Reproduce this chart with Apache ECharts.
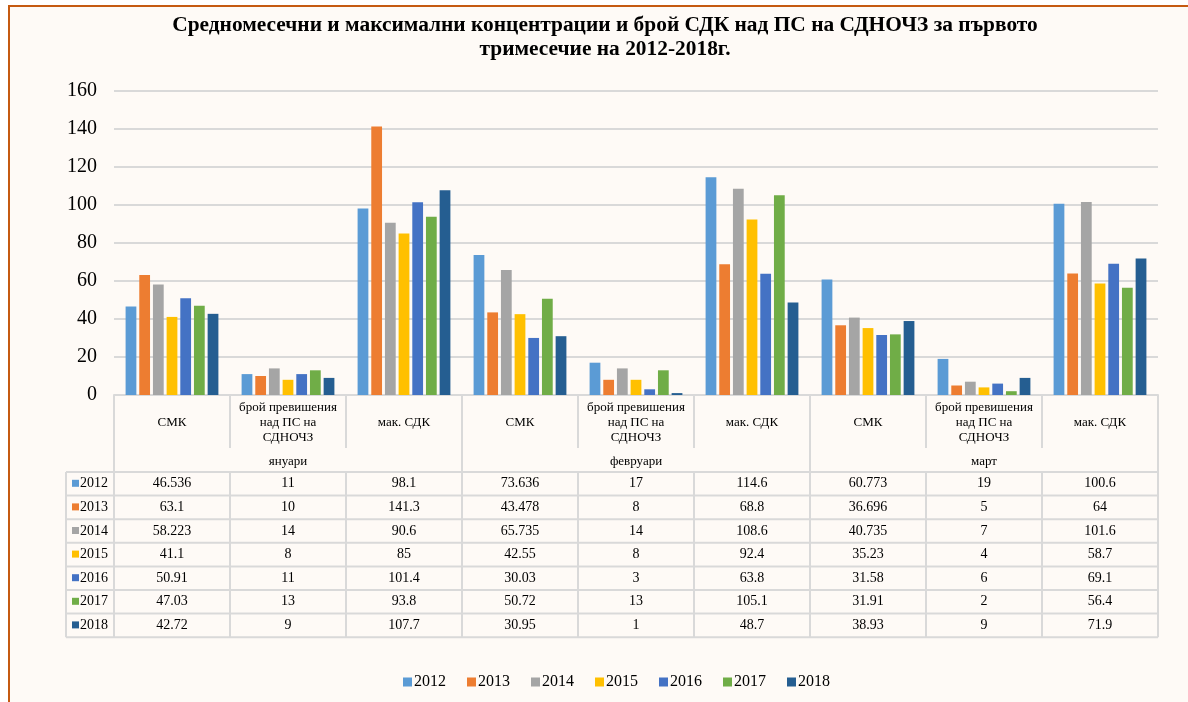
<!DOCTYPE html>
<html>
<head>
<meta charset="utf-8">
<script src="https://cdn.jsdelivr.net/npm/echarts@6/dist/echarts.min.js"></script>
<style>
  html, body { margin: 0; padding: 0; background: #fff; }
  #chart { width: 1188px; height: 702px; }
</style>
</head>
<body>
<div id="chart"></div>
<script>
// данни
const months = ['януари', 'февруари', 'март']
const measures = ['СМК', 'брой превишения\nнад ПС на\nСДНОЧЗ', 'мак. СДК']
const years = ['2012', '2013', '2014', '2015', '2016', '2017', '2018']
const yTicks = [0, 160, 20]

const v2012 = [46.536, 11, 98.1, 73.636, 17, 114.6, 60.773, 19, 100.6]
const v2013 = [63.1, 10, 141.3, 43.478, 8, 68.8, 36.696, 5, 64]
const v2014 = [58.223, 14, 90.6, 65.735, 14, 108.6, 40.735, 7, 101.6]
const v2015 = [41.1, 8, 85, 42.55, 8, 92.4, 35.23, 4, 58.7]
const v2016 = [50.91, 11, 101.4, 30.03, 3, 63.8, 31.58, 6, 69.1]
const v2017 = [47.03, 13, 93.8, 50.72, 13, 105.1, 31.91, 2, 56.4]
const v2018 = [42.72, 9, 107.7, 30.95, 1, 48.7, 38.93, 9, 71.9]
const values = [v2012, v2013, v2014, v2015, v2016, v2017, v2018]

const colors = ['#5B9BD5', '#ED7D31', '#A5A5A5', '#FFC000', '#4472C4', '#70AD47', '#255E91']
const serif = '"Liberation Serif", "Times New Roman", serif'
const lineColor = '#d9d9d9'

// категории: 3 месеца x 3 показателя
const categories = []
months.forEach(m => measures.forEach(s => categories.push(s + '|' + m)))

const chart = echarts.init(document.getElementById('chart'))

const option = {
  backgroundColor: '#fefaf6',
  animation: false,
  color: colors,
  grid: { left: 114, right: 30, top: 91, bottom: 307 },
  xAxis: {
    type: 'category',
    data: categories,
    axisLabel: { show: false },
    axisTick: { show: false },
    axisLine: { lineStyle: { color: lineColor, width: 2 } }
  },
  yAxis: {
    type: 'value',
    min: yTicks[0],
    max: yTicks[1],
    interval: yTicks[2],
    axisLine: { show: false },
    axisTick: { show: false },
    axisLabel: { fontFamily: serif, fontSize: 20, color: '#000', margin: 17, padding: [3, 0, 0, 0] },
    splitLine: { lineStyle: { color: lineColor, width: 2 } }
  },
  legend: {
    bottom: 7,
    left: 398,
    icon: 'rect',
    itemWidth: 9,
    itemHeight: 9,
    itemGap: 21,
    textStyle: { fontFamily: serif, fontSize: 16, color: '#000', padding: [0, 0, 0, -3] },
    data: years
  },
  series: years.map((y, i) => ({
    name: y,
    type: 'bar',
    data: values[i],
    barGap: '27%',
    barCategoryGap: '20%'
  }))
}

chart.setOption(option)

// таблица с данни под графиката
const buildGraphic = () => {
  const els = []
  const x0 = chart.convertToPixel({ xAxisIndex: 0 }, 0)
  const x1 = chart.convertToPixel({ xAxisIndex: 0 }, 1)
  const colW = x1 - x0
  const left = x0 - colW / 2
  const top = chart.convertToPixel({ yAxisIndex: 0 }, 0)
  const catH = 53
  const hdrH = 77
  const rowH = 23.6
  const keyLeft = 66
  const bottom = top + hdrH + rowH * years.length
  const right = left + colW * categories.length

  const line = (xa, ya, xb, yb) => els.push({
    type: 'line',
    shape: { x1: xa, y1: ya, x2: xb, y2: yb },
    style: { stroke: lineColor, lineWidth: 2 },
    silent: true
  })
  const text = (x, y, t, size, align) => els.push({
    type: 'text',
    x: x, y: y,
    style: {
      text: t, fontFamily: serif, fontSize: size, fill: '#000',
      align: align || 'center', verticalAlign: 'middle', lineHeight: 15
    },
    silent: true
  })

  // вертикални линии
  for (let b = 0; b <= categories.length; b++) {
    const x = left + b * colW
    if (b % 3 === 0) {
      line(x, top, x, bottom)
    } else {
      line(x, top, x, top + catH)
      line(x, top + hdrH, x, bottom)
    }
  }
  line(keyLeft, top + hdrH, keyLeft, bottom)
  // хоризонтални линии
  for (let r = 0; r <= years.length; r++) {
    const y = top + hdrH + r * rowH
    line(keyLeft, y, right, y)
  }

  // заглавия на колоните
  categories.forEach((c, i) => {
    const cx = left + (i + 0.5) * colW
    text(cx, top + 28, c.split('|')[0], 13)
  })
  months.forEach((m, i) => {
    text(left + (i * 3 + 1.5) * colW, top + 67, m, 13)
  })

  // редове
  years.forEach((y, r) => {
    const cy = top + hdrH + (r + 0.5) * rowH
    els.push({
      type: 'rect',
      shape: { x: keyLeft + 6, y: cy - 4, width: 7, height: 7 },
      style: { fill: colors[r] },
      silent: true
    })
    text(keyLeft + 14, cy, y, 14, 'left')
    values[r].forEach((v, i) => {
      text(left + (i + 0.5) * colW, cy, String(v), 14)
    })
  })

  // рамка на страницата
  els.push({ type: 'rect', shape: { x: 0, y: 0, width: 1188, height: 5 }, style: { fill: '#fff' }, silent: true })
  els.push({ type: 'rect', shape: { x: 0, y: 0, width: 8, height: 702 }, style: { fill: '#fff' }, silent: true })
  els.push({ type: 'line', shape: { x1: 8, y1: 6, x2: 1188, y2: 6 }, style: { stroke: '#C55A11', lineWidth: 2 }, silent: true })
  els.push({ type: 'line', shape: { x1: 9, y1: 6, x2: 9, y2: 702 }, style: { stroke: '#C55A11', lineWidth: 2 }, silent: true })

  // заглавие
  els.push({
    type: 'text',
    x: 605, y: 13,
    style: {
      text: 'Средномесечни и максимални концентрации и брой СДК над ПС на СДНОЧЗ за първото\nтримесечие на 2012-2018г.',
      fontFamily: serif, fontSize: 21.4, fontWeight: 'bold', fill: '#000',
      align: 'center', verticalAlign: 'top', lineHeight: 24
    },
    silent: true
  })
  return els
}

chart.setOption({ graphic: buildGraphic() })
</script>
</body>
</html>
